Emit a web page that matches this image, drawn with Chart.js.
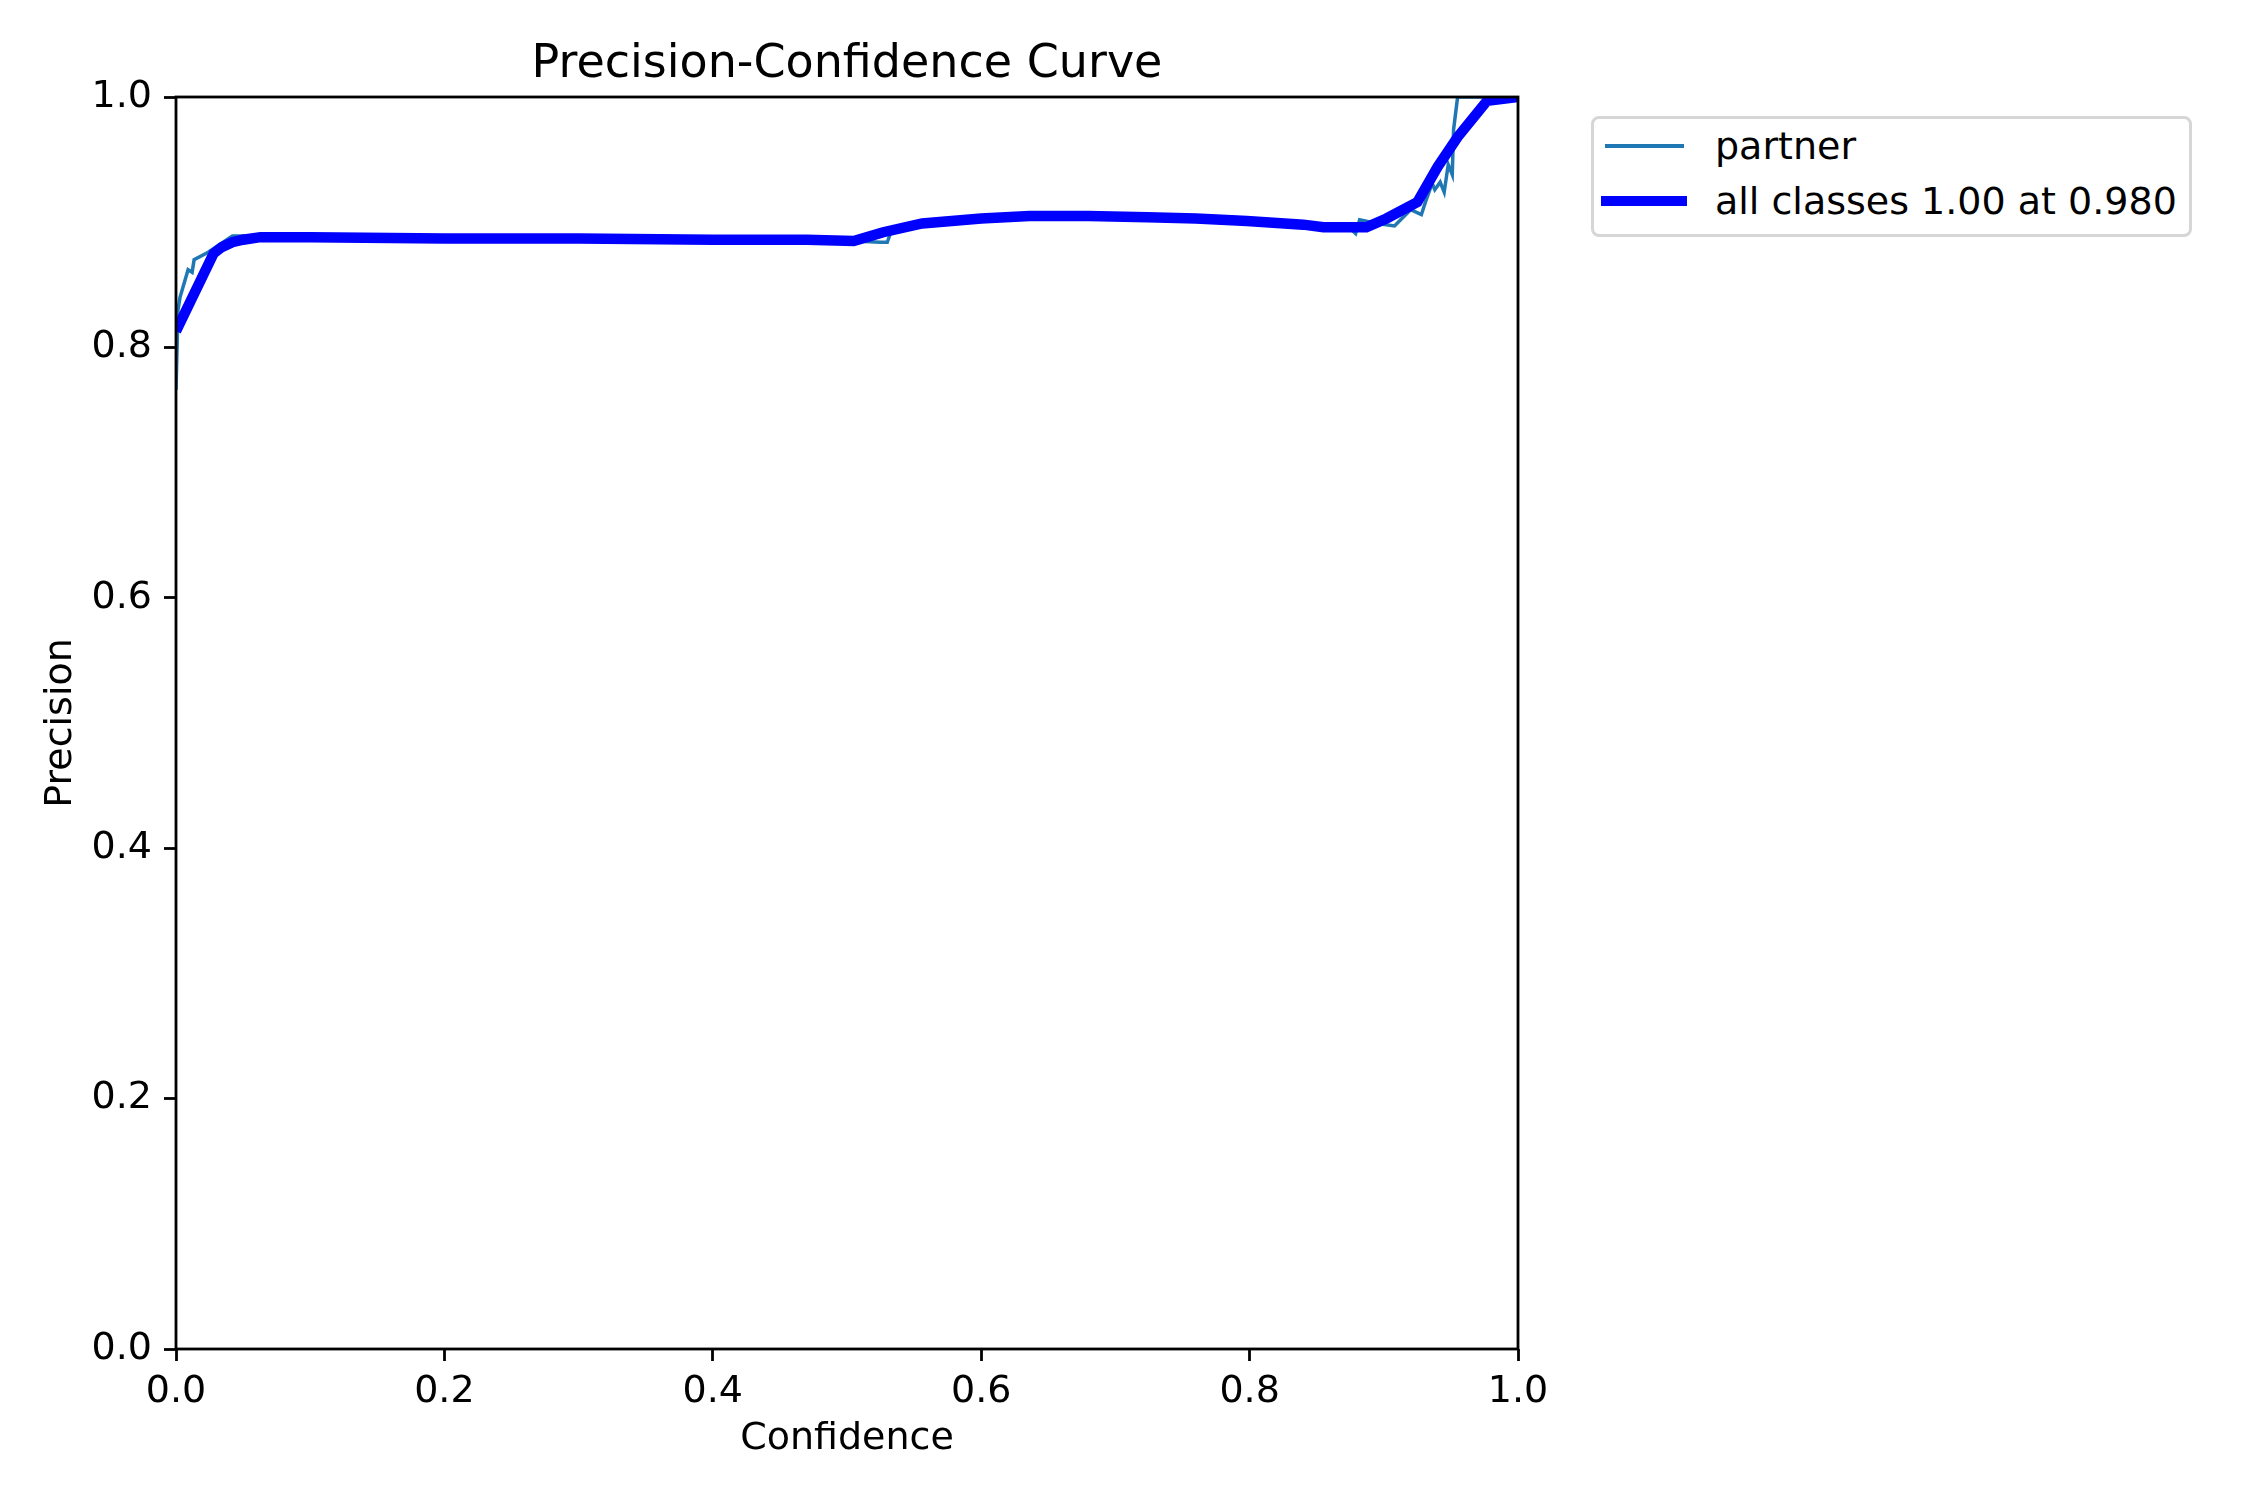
<!DOCTYPE html>
<html lang="en">
<head>
    <meta charset="UTF-8">
    <title>Precision-Confidence Curve</title>
    <script src="https://cdn.jsdelivr.net/npm/chart.js"></script>
    <style>
        body { margin: 0; padding: 0; background: white; font-family: "DejaVu Sans", sans-serif; }
        .wrap { position: relative; width: 2250px; height: 1500px; }
        #legend { position: absolute; left: 1591px; top: 116px; width: 601px; height: 121px;
                  border: 3px solid #d6d6d6; border-radius: 8px; background: white; box-sizing: border-box; }
        .item { position: absolute; left: 0; height: 50px; width: 100%; }
        .item .swatch { position: absolute; }
        .item span { position: absolute; left: 121px; top: 0; font-size: 38px; line-height: 50px; color: black; white-space: nowrap; }
    </style>
</head>
<body>
<div class="wrap">
    <canvas id="pc" width="2250" height="1500"></canvas>
    <div id="legend"></div>
</div>
<script>
    // partner class curve (thin)
    const partnerConf = [0, 0.0015, 0.003, 0.009, 0.012, 0.0135, 0.024, 0.042, 0.063, 0.1, 0.2, 0.3, 0.4, 0.47, 0.505, 0.525, 0.530, 0.533, 0.556, 0.6, 0.636, 0.68, 0.724, 0.76, 0.8, 0.84, 0.86, 0.875, 0.879, 0.882, 0.895, 0.908, 0.920, 0.928, 0.931, 0.936, 0.938, 0.942, 0.945, 0.948, 0.951, 0.952, 0.955, 1.0];
    const partnerPrec = [0.766, 0.830, 0.840, 0.862, 0.860, 0.870, 0.876, 0.889, 0.889, 0.888, 0.887, 0.887, 0.886, 0.886, 0.885, 0.884, 0.884, 0.893, 0.899, 0.903, 0.905, 0.905, 0.904, 0.903, 0.901, 0.898, 0.896, 0.895, 0.891, 0.902, 0.899, 0.897, 0.910, 0.906, 0.916, 0.931, 0.926, 0.932, 0.924, 0.946, 0.938, 0.974, 1.0, 1.0];

    // all classes (smoothed, thick)
    const allConf = [0, 0.028, 0.034, 0.042, 0.05, 0.063, 0.1, 0.2, 0.3, 0.4, 0.47, 0.505, 0.527, 0.556, 0.6, 0.636, 0.68, 0.724, 0.76, 0.798, 0.84, 0.855, 0.887, 0.902, 0.925, 0.94, 0.955, 0.977, 1.0];
    const allPrec = [0.813, 0.875, 0.880, 0.884, 0.886, 0.888, 0.888, 0.887, 0.887, 0.886, 0.886, 0.885, 0.892, 0.899, 0.903, 0.905, 0.905, 0.904, 0.903, 0.901, 0.898, 0.896, 0.896, 0.903, 0.916, 0.944, 0.968, 0.997, 1.0];

    const tickValues = [0, 0.2, 0.4, 0.6, 0.8, 1.0];

    const toPoints = (xs, ys) => xs.map((x, i) => ({ x: x, y: ys[i] }));

    const fontFamily = '"DejaVu Sans", sans-serif';

    // frame + title around the plot area, like matplotlib spines
    const frame = {
        id: 'frame',
        afterDatasetsDraw(chart) {
            const a = chart.chartArea, ctx = chart.ctx;
            ctx.save();
            ctx.strokeStyle = 'black';
            ctx.lineWidth = 2.8;
            ctx.strokeRect(a.left, a.top, a.right - a.left, a.bottom - a.top);
            ctx.fillStyle = 'black';
            ctx.font = '46px ' + fontFamily;
            ctx.textAlign = 'center';
            ctx.textBaseline = 'middle';
            ctx.fillText('Precision-Confidence Curve', (a.left + a.right) / 2, 65);
            ctx.restore();
        }
    };

    const axisCommon = {
        type: 'linear',
        min: 0,
        max: 1,
        border: { display: false },
        grid: { drawOnChartArea: false, drawTicks: true, tickLength: 12, tickWidth: 2.8, tickColor: 'black' },
        ticks: {
            stepSize: 0.2,
            color: 'black',
            font: { size: 38, family: fontFamily },
            callback: v => Number(v).toFixed(1)
        },
        afterBuildTicks: s => { s.ticks = tickValues.map(v => ({ value: v })); }
    };

    const chart = new Chart(document.getElementById('pc'), {
        type: 'line',
        data: {
            datasets: [
                {
                    label: 'all classes 1.00 at 0.980',
                    data: toPoints(allConf, allPrec),
                    borderColor: '#0000ff',
                    borderWidth: 10.4,
                    pointRadius: 0,
                    tension: 0,
                    order: 0
                },
                {
                    label: 'partner',
                    data: toPoints(partnerConf, partnerPrec),
                    borderColor: '#1f77b4',
                    borderWidth: 3.5,
                    pointRadius: 0,
                    tension: 0,
                    order: 1
                }
            ]
        },
        options: {
            responsive: false,
            animation: false,
            devicePixelRatio: 1,
            layout: { padding: { top: 97, right: 732, bottom: 0, left: 0 } },
            plugins: { legend: { display: false }, tooltip: { enabled: false }, title: { display: false } },
            scales: {
                x: Object.assign({}, axisCommon, {
                    position: 'bottom',
                    ticks: Object.assign({}, axisCommon.ticks, { padding: 8, maxRotation: 0 }),
                    title: { display: true, text: 'Confidence', color: 'black', font: { size: 38, family: fontFamily }, padding: { bottom: 38 } },
                    afterFit: s => { s.height = 151; }
                }),
                y: Object.assign({}, axisCommon, {
                    position: 'left',
                    ticks: Object.assign({}, axisCommon.ticks, { padding: 12 }),
                    title: { display: true, text: 'Precision', color: 'black', font: { size: 38, family: fontFamily }, padding: { top: 38 } },
                    afterFit: s => { s.width = 176; }
                })
            }
        },
        plugins: [frame]
    });

    // legend, partner first like the reference
    const legend = document.getElementById('legend');
    const swatches = [{ left: 11, width: 79, center: 27 }, { left: 7, width: 86, center: 82 }];
    [chart.data.datasets[1], chart.data.datasets[0]].forEach((ds, i) => {
        const s = swatches[i];
        const item = document.createElement('div');
        item.className = 'item';
        item.style.top = (s.center - 25) + 'px';
        const sw = document.createElement('div');
        sw.className = 'swatch';
        sw.style.left = s.left + 'px';
        sw.style.width = s.width + 'px';
        sw.style.height = ds.borderWidth + 'px';
        sw.style.top = (25 - ds.borderWidth / 2) + 'px';
        sw.style.background = ds.borderColor;
        const label = document.createElement('span');
        label.textContent = ds.label;
        item.appendChild(sw);
        item.appendChild(label);
        legend.appendChild(item);
    });
</script>
</body>
</html>
